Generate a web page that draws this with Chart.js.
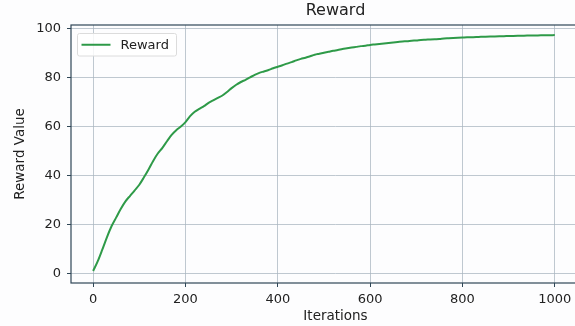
<!DOCTYPE html>
<html>
<head>
<meta charset="utf-8">
<title>Reward</title>
<script src="https://cdn.jsdelivr.net/npm/chart.js@4.4.1/dist/chart.umd.min.js"></script>
<style>
    html, body { margin: 0; padding: 0; background: #fdfdfe; overflow: hidden; }
    /* wider than the 575px window: the right spine sits outside the picture, as in the reference */
    #wrap { position: relative; width: 600px; height: 326px; }
</style>
</head>
<body>
<div id="wrap"><canvas id="ChartCanvas"></canvas></div>
<script>
// Values.
const iterations = [
    0, 10, 20, 30, 40, 50, 60, 70, 80, 90,
    100, 110, 120, 130, 140, 150, 160, 170, 180, 190,
    200, 210, 220, 230, 240, 250, 260, 270, 280, 290,
    300, 310, 320, 330, 340, 350, 360, 370, 380, 390,
    400, 410, 420, 430, 440, 450, 460, 470, 480, 490,
    500, 510, 520, 530, 540, 550, 560, 570, 580, 590,
    600, 610, 620, 630, 640, 650, 660, 670, 680, 690,
    700, 710, 720, 730, 740, 750, 760, 770, 780, 790,
    800, 810, 820, 830, 840, 850, 860, 870, 880, 890,
    900, 910, 920, 930, 940, 950, 960, 970, 980, 990,
    1000
];
const rewards = [
    1.2, 5.2, 10.0, 15.0, 19.5, 23.0, 26.5, 29.5, 31.8, 34.0,
    36.3, 39.3, 42.5, 46.0, 49.0, 51.3, 54.0, 56.6, 58.5, 60.0,
    61.8, 64.2, 66.0, 67.2, 68.3, 69.6, 70.6, 71.6, 72.6, 74.0,
    75.6, 77.0, 78.1, 79.0, 80.0, 81.0, 81.8, 82.4, 83.0, 83.7,
    84.3, 84.9, 85.6, 86.2, 86.9, 87.5, 88.0, 88.6, 89.2, 89.6,
    90.0, 90.4, 90.8, 91.1, 91.5, 91.8, 92.1, 92.4, 92.7, 92.9,
    93.2, 93.4, 93.6, 93.8, 94.0, 94.2, 94.4, 94.6, 94.7, 94.9,
    95.0, 95.2, 95.3, 95.4, 95.5, 95.6, 95.8, 95.9, 96.0, 96.1,
    96.2, 96.3, 96.35, 96.4, 96.5, 96.55, 96.6, 96.65, 96.7, 96.75,
    96.8, 96.85, 96.9, 96.95, 97.0, 97.0, 97.05, 97.1, 97.1, 97.15,
    97.2
];
const xTickValues = [0, 200, 400, 600, 800, 1000];
const yTickValues = [0, 20, 40, 60, 80, 100];
const seriesLabel = 'Reward';

const FONT = 'DejaVu Sans';
const TEXT = '#222';
const SPINE = '#2f4656';
const GRID = 'rgba(170,182,192,0.75)';
const LINE = '#2e9a48';

// Axes frame on all four sides, drawn over the line like matplotlib spines.
const framePlugin =
{
    id: 'frame',
    afterDatasetsDraw(chart)
    {
        const {ctx, chartArea: a} = chart;
        ctx.save();
        ctx.strokeStyle = SPINE;
        ctx.lineWidth = 1.2;
        ctx.strokeRect(a.left, a.top, a.right - a.left, a.bottom - a.top);
        ctx.restore();
    }
};

// Legend box inside the axes, upper left.
const legendPlugin =
{
    id: 'boxLegend',
    afterDraw(chart)
    {
        const {ctx, chartArea: a} = chart;
        const ds = chart.data.datasets[0];
        const x = a.left + 6.5, y = a.top + 8.5, w = 99, h = 22.5;
        ctx.save();
        ctx.fillStyle = 'rgba(255,255,255,0.85)';
        ctx.strokeStyle = '#dcdcdc';
        ctx.lineWidth = 1;
        ctx.beginPath();
        ctx.roundRect(x, y, w, h, 2);
        ctx.fill();
        ctx.stroke();
        const cy = y + h / 2;
        ctx.strokeStyle = ds.borderColor;
        ctx.lineWidth = 2;
        ctx.beginPath();
        ctx.moveTo(x + 4, cy);
        ctx.lineTo(x + 33, cy);
        ctx.stroke();
        ctx.fillStyle = TEXT;
        ctx.font = '13px "' + FONT + '"';
        ctx.textBaseline = 'middle';
        ctx.textAlign = 'left';
        ctx.fillText(ds.label, x + 43, cy + 0.5);
        ctx.restore();
    }
};

new Chart(document.getElementById('ChartCanvas'),
{
    type: 'line',
    data:
    {
        datasets:
        [
            {
                label: seriesLabel,
                data: iterations.map((it, i) => ({x: it, y: rewards[i]})),
                borderColor: LINE,
                borderWidth: 2,
                pointRadius: 0,
                cubicInterpolationMode: 'monotone',
                fill: false
            }
        ]
    },
    options:
    {
        responsive: true,
        maintainAspectRatio: false,
        animation: false,
        layout: { padding: 0 },
        plugins:
        {
            legend: { display: false },
            tooltip: { enabled: false },
            title:
            {
                display: true,
                text: 'Reward',
                fullSize: false,
                color: TEXT,
                font: { family: FONT, size: 16, weight: 'normal' },
                padding: { top: 1.4, bottom: 4.4 }
            }
        },
        scales:
        {
            x:
            {
                type: 'linear',
                min: -48,
                max: 1098,
                afterBuildTicks: s => { s.ticks = xTickValues.map(v => ({value: v})); },
                afterFit: s => { s.height = 43; },
                border: { display: false },
                grid: { color: GRID, lineWidth: 1, tickColor: SPINE, tickLength: 4 },
                ticks: { color: TEXT, padding: 5, maxRotation: 0, font: { family: FONT, size: 13 }, callback: v => String(v) },
                title:
                {
                    display: true,
                    text: 'Iterations',
                    color: TEXT,
                    font: { family: FONT, size: 13.5 },
                    padding: { top: 0, bottom: 1.4 }
                }
            },
            y:
            {
                type: 'linear',
                min: -3.7,
                max: 101.3,
                afterBuildTicks: s => { s.ticks = yTickValues.map(v => ({value: v})); },
                afterFit: s => { s.width = 71; },
                border: { display: false },
                grid: { color: GRID, lineWidth: 1, tickColor: SPINE, tickLength: 4 },
                ticks: { color: TEXT, padding: 6, font: { family: FONT, size: 13 }, callback: v => String(v) },
                title:
                {
                    display: true,
                    text: 'Reward Value',
                    color: TEXT,
                    font: { family: FONT, size: 13.5 },
                    padding: { top: 11.9, bottom: 0 }
                }
            }
        }
    },
    plugins: [framePlugin, legendPlugin]
});
</script>
</body>
</html>
